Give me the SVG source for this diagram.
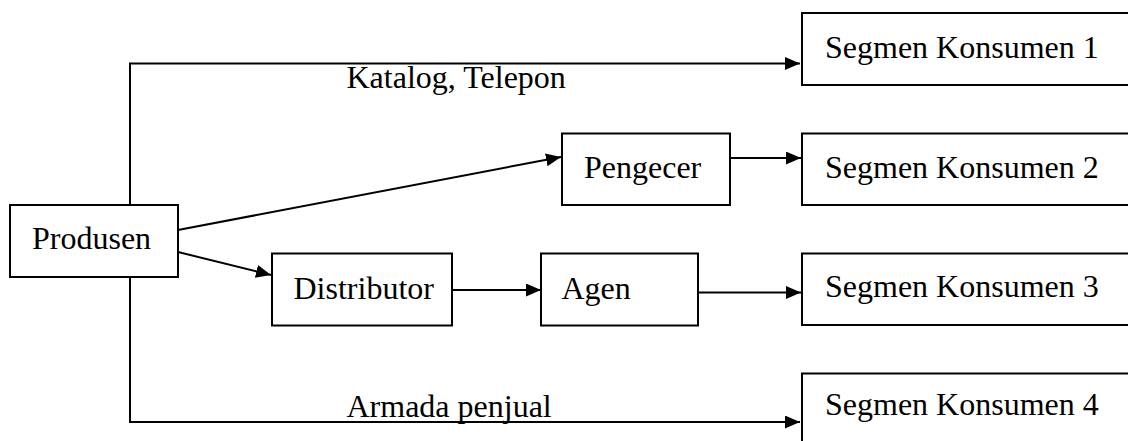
<svg xmlns="http://www.w3.org/2000/svg" width="1128" height="441" viewBox="0 0 1128 441">
<style>
.box{fill:#fff;stroke:#000;stroke-width:2}
.t{font-family:"Liberation Serif","Times New Roman",serif;font-size:32px;fill:#000}
.c{fill:none;stroke:#000;stroke-width:2}
</style>
<defs>
<marker id="ah" markerUnits="userSpaceOnUse" markerWidth="16" markerHeight="14" refX="15" refY="6.5" orient="auto">
<path d="M0,0 L15,6.5 L0,13 z" fill="#000"/>
</marker>
</defs>
<rect width="1128" height="441" fill="#fff"/>
<g id="connectors">
<polyline class="c" points="130,205 130,63.5 800,63.5" marker-end="url(#ah)"/>
<polyline class="c" points="130,277 130,422 800,422" marker-end="url(#ah)"/>
<line class="c" x1="178" y1="230" x2="561" y2="157" marker-end="url(#ah)"/>
<line class="c" x1="178" y1="252" x2="271" y2="275" marker-end="url(#ah)"/>
<line class="c" x1="730" y1="158" x2="801" y2="158" marker-end="url(#ah)"/>
<line class="c" x1="452" y1="290" x2="541" y2="290" marker-end="url(#ah)"/>
<line class="c" x1="698" y1="292.5" x2="801" y2="292.5" marker-end="url(#ah)"/>
<text class="t" x="346.5" y="87.5">Katalog, Telepon</text>
<text class="t" x="346.5" y="417">Armada penjual</text>
</g>
<g id="produsen"><rect class="box" x="10" y="205" width="168" height="72"/><text class="t" x="32" y="248.5">Produsen</text></g>
<g id="pengecer"><rect class="box" x="562" y="133.5" width="168" height="71.5"/><text class="t" x="584" y="178">Pengecer</text></g>
<g id="distributor"><rect class="box" x="272" y="253.5" width="180" height="72"/><text class="t" x="293.5" y="298.5">Distributor</text></g>
<g id="agen"><rect class="box" x="541" y="253.5" width="157" height="72"/><text class="t" x="561.5" y="298.5">Agen</text></g>
<g id="sk1"><rect class="box" x="802" y="13" width="330" height="72"/><text class="t" x="825" y="57.5">Segmen Konsumen 1</text></g>
<g id="sk2"><rect class="box" x="802" y="133.5" width="330" height="71.5"/><text class="t" x="825" y="178">Segmen Konsumen 2</text></g>
<g id="sk3"><rect class="box" x="802" y="253.5" width="330" height="71.5"/><text class="t" x="825" y="297">Segmen Konsumen 3</text></g>
<g id="sk4"><rect class="box" x="802" y="373.5" width="330" height="72"/><text class="t" x="825" y="415">Segmen Konsumen 4</text></g>
</svg>
